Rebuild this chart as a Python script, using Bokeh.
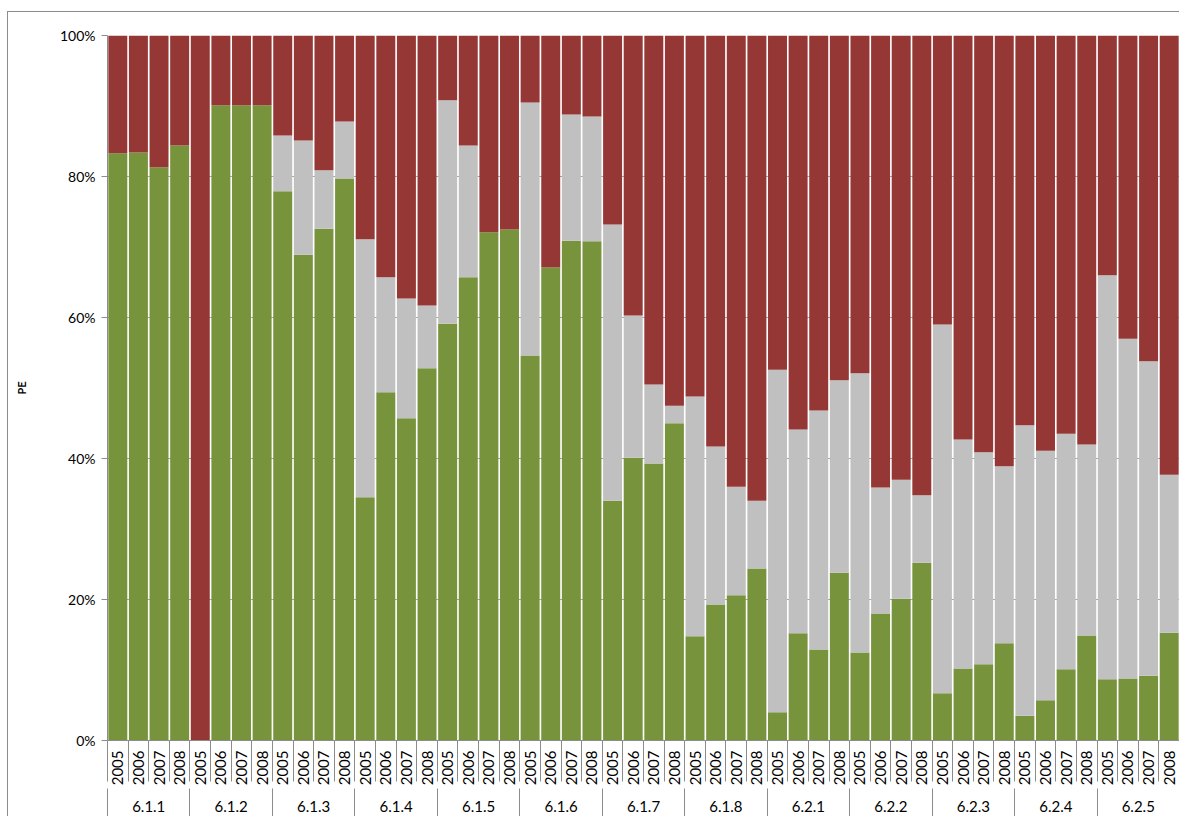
import math
from bokeh.plotting import figure
from bokeh.models import Range1d, LinearAxis, FixedTicker, InlineStyleSheet, ColumnDataSource
from bokeh.embed import file_html
from bokeh.resources import INLINE

groups = ["6.1.1", "6.1.2", "6.1.3", "6.1.4", "6.1.5", "6.1.6", "6.1.7",
          "6.1.8", "6.2.1", "6.2.2", "6.2.3", "6.2.4", "6.2.5"]
years = ["2005", "2006", "2007", "2008"]

green = [83.3, 83.4, 81.3, 84.4,
         0.0, 90.1, 90.1, 90.1,
         77.9, 68.9, 72.6, 79.7,
         34.5, 49.4, 45.7, 52.8,
         59.1, 65.7, 72.1, 72.5,
         54.6, 67.1, 70.9, 70.8,
         34.0, 40.1, 39.3, 45.0,
         14.8, 19.3, 20.6, 24.4,
         4.0, 15.2, 12.9, 23.8,
         12.5, 18.0, 20.1, 25.2,
         6.7, 10.2, 10.8, 13.8,
         3.5, 5.7, 10.1, 14.9,
         8.7, 8.8, 9.2, 15.3]
grey = [0.0, 0.0, 0.0, 0.0,
        0.0, 0.0, 0.0, 0.0,
        7.9, 16.2, 8.3, 8.1,
        36.6, 16.3, 17.0, 8.9,
        31.7, 18.7, 0.0, 0.0,
        35.9, 0.0, 17.9, 17.7,
        39.2, 20.2, 11.2, 2.5,
        34.0, 22.4, 15.4, 9.6,
        48.6, 28.9, 33.9, 27.3,
        39.6, 17.9, 16.9, 9.6,
        52.3, 32.5, 30.1, 25.1,
        41.2, 35.4, 33.4, 27.1,
        57.3, 48.2, 44.6, 22.4]
red = [16.7, 16.6, 18.7, 15.6,
       100.0, 9.9, 9.9, 9.9,
       14.2, 14.9, 19.1, 12.2,
       28.9, 34.3, 37.3, 38.3,
       9.2, 15.6, 27.9, 27.5,
       9.5, 32.9, 11.2, 11.5,
       26.8, 39.7, 49.5, 52.5,
       51.2, 58.3, 64.0, 66.0,
       47.4, 55.9, 53.2, 48.9,
       47.9, 64.1, 63.0, 65.2,
       41.0, 57.3, 59.1, 61.1,
       55.3, 58.9, 56.5, 58.0,
       34.0, 43.0, 46.2, 62.3]
y_ticks = [0, 20, 40, 60, 80, 100]
y_labels = ["0%", "20%", "40%", "60%", "80%", "100%"]

n_years = len(years)
n = len(groups) * n_years
xs = [i + 0.5 for i in range(n)]
year_labels = [years[i % n_years] for i in range(n)]

src = ColumnDataSource(dict(x=xs, green=green, grey=grey, red=red))

FONT = "Lato"
AX = "#8C8C8C"

p = figure(width=1179, height=816, output_backend="svg", toolbar_location=None,
           x_range=Range1d(0, n), y_range=Range1d(0, 100),
           x_axis_location=None,
           min_border_left=107, min_border_right=0, min_border_top=35, min_border_bottom=76)
p.stylesheets = [InlineStyleSheet(
    css=":host { box-shadow: inset 7px 11px 0 0 white, inset 8px 12px 0 0 #8C8C8C; }")]
p.border_fill_color = None
p.background_fill_color = "white"
p.outline_line_color = None

p.vbar_stack(["green", "grey", "red"], x="x", width=0.92, source=src,
             color=["#77933C", "#C0C0C0", "#953735"], line_color=None)

# y axis
p.yaxis.ticker = FixedTicker(ticks=y_ticks)
p.yaxis.major_label_overrides = {t: l for t, l in zip(y_ticks, y_labels)}
p.yaxis.axis_label = "PE"
p.yaxis.axis_label_text_font = FONT
p.yaxis.axis_label_text_font_size = "11px"
p.yaxis.axis_label_text_font_style = "bold"
p.yaxis.axis_label_text_color = "black"
p.yaxis.axis_label_standoff = 29
p.yaxis.major_label_text_font = FONT
p.yaxis.major_label_text_font_size = "14px"
p.yaxis.major_label_text_color = "black"
p.yaxis.major_label_standoff = 6
p.yaxis.axis_line_color = AX
p.yaxis.major_tick_line_color = AX
p.yaxis.major_tick_in = 0
p.yaxis.major_tick_out = 6
p.yaxis.minor_tick_line_color = None

p.ygrid.ticker = FixedTicker(ticks=y_ticks)
p.ygrid.grid_line_color = "#A6A6A6"
p.xgrid.grid_line_color = None

# year axis
ax_year = LinearAxis(
    ticker=FixedTicker(ticks=xs, minor_ticks=list(range(n + 1))),
    major_label_overrides={x: l for x, l in zip(xs, year_labels)},
    major_label_orientation=math.pi / 2,
    major_label_text_font=FONT, major_label_text_font_size="15px",
    major_label_text_color="black", major_label_standoff=-31,
    major_tick_line_color=None, major_tick_in=0, major_tick_out=0,
    minor_tick_line_color=AX, minor_tick_in=0, minor_tick_out=41,
    axis_line_color=AX)
p.add_layout(ax_year, "below")

# group axis
g_centers = [i * n_years + n_years / 2 for i in range(len(groups))]
ax_group = LinearAxis(
    ticker=FixedTicker(ticks=g_centers, minor_ticks=[i * n_years for i in range(len(groups) + 1)]),
    major_label_overrides={c: g for c, g in zip(g_centers, groups)},
    major_label_text_font=FONT, major_label_text_font_size="15px",
    major_label_text_color="black", major_label_standoff=-22,
    major_tick_line_color=None, major_tick_in=0, major_tick_out=0,
    minor_tick_line_color=AX, minor_tick_in=0, minor_tick_out=34,
    axis_line_color=None)
p.add_layout(ax_group, "below")

open("out.html", "w").write(file_html(p, INLINE))
